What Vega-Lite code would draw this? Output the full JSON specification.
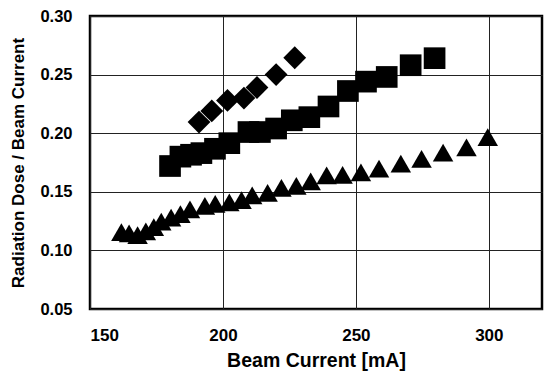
{
  "$schema": "https://vega.github.io/schema/vega-lite/v6.json",
  "width": 452,
  "height": 293,
  "autosize": {"type": "none"},
  "padding": {"left": 90, "top": 16, "right": 4, "bottom": 65},
  "background": "white",
  "config": {
    "view": {"stroke": "black", "strokeWidth": 2.5},
    "font": "Liberation Sans",
    "axis": {"labelFont": "Liberation Sans", "titleFont": "Liberation Sans", "labelFontWeight": "bold", "titleFontWeight": "bold", "labelColor": "black", "titleColor": "black", "gridColor": "#222", "gridWidth": 1, "gridOpacity": 1, "domain": false, "ticks": false}
  },
  "data": {"values": [
    {"series": "A", "current": 191, "ratio": 0.2095},
    {"series": "A", "current": 195.8, "ratio": 0.219},
    {"series": "A", "current": 201.7, "ratio": 0.228},
    {"series": "A", "current": 207.9, "ratio": 0.230},
    {"series": "A", "current": 212.8, "ratio": 0.239},
    {"series": "A", "current": 220, "ratio": 0.250},
    {"series": "A", "current": 227, "ratio": 0.2644},
    {"series": "B", "current": 180.1, "ratio": 0.172},
    {"series": "B", "current": 184, "ratio": 0.180},
    {"series": "B", "current": 188, "ratio": 0.1816},
    {"series": "B", "current": 191.9, "ratio": 0.183},
    {"series": "B", "current": 197, "ratio": 0.1867},
    {"series": "B", "current": 202.4, "ratio": 0.1915},
    {"series": "B", "current": 209.6, "ratio": 0.201},
    {"series": "B", "current": 213.9, "ratio": 0.201},
    {"series": "B", "current": 220, "ratio": 0.204},
    {"series": "B", "current": 225.9, "ratio": 0.211},
    {"series": "B", "current": 232.5, "ratio": 0.2137},
    {"series": "B", "current": 239.7, "ratio": 0.2228},
    {"series": "B", "current": 247, "ratio": 0.236},
    {"series": "B", "current": 253.8, "ratio": 0.244},
    {"series": "B", "current": 261.6, "ratio": 0.248},
    {"series": "B", "current": 270.6, "ratio": 0.258},
    {"series": "B", "current": 279.6, "ratio": 0.264},
    {"series": "C", "current": 161.8, "ratio": 0.1155},
    {"series": "C", "current": 164.7, "ratio": 0.1145},
    {"series": "C", "current": 167.9, "ratio": 0.113},
    {"series": "C", "current": 171, "ratio": 0.1163},
    {"series": "C", "current": 174, "ratio": 0.1198},
    {"series": "C", "current": 176.8, "ratio": 0.1246},
    {"series": "C", "current": 180.5, "ratio": 0.128},
    {"series": "C", "current": 184, "ratio": 0.131},
    {"series": "C", "current": 187.6, "ratio": 0.135},
    {"series": "C", "current": 193.2, "ratio": 0.138},
    {"series": "C", "current": 197.1, "ratio": 0.1397},
    {"series": "C", "current": 202.4, "ratio": 0.141},
    {"series": "C", "current": 207, "ratio": 0.143},
    {"series": "C", "current": 211, "ratio": 0.147},
    {"series": "C", "current": 216.8, "ratio": 0.149},
    {"series": "C", "current": 222, "ratio": 0.1534},
    {"series": "C", "current": 227.6, "ratio": 0.155},
    {"series": "C", "current": 233, "ratio": 0.159},
    {"series": "C", "current": 239, "ratio": 0.164},
    {"series": "C", "current": 245, "ratio": 0.1645},
    {"series": "C", "current": 251.9, "ratio": 0.1665},
    {"series": "C", "current": 258.7, "ratio": 0.1697},
    {"series": "C", "current": 266.9, "ratio": 0.174},
    {"series": "C", "current": 274.7, "ratio": 0.178},
    {"series": "C", "current": 282.8, "ratio": 0.1835},
    {"series": "C", "current": 291.6, "ratio": 0.188},
    {"series": "C", "current": 299.6, "ratio": 0.1966}
  ]},
  "mark": {"type": "point", "filled": true, "opacity": 1, "color": "black", "strokeWidth": 0},
  "encoding": {
    "x": {
      "field": "current", "type": "quantitative",
      "scale": {"domain": [150, 320], "nice": false, "zero": false},
      "axis": {"values": [150, 200, 250, 300], "title": "Beam Current [mA]", "labelFontSize": 17, "titleFontSize": 19.5, "labelPadding": 18, "titlePadding": 8, "grid": true}
    },
    "y": {
      "field": "ratio", "type": "quantitative",
      "scale": {"domain": [0.05, 0.30], "nice": false, "zero": false},
      "axis": {"values": [0.05, 0.10, 0.15, 0.20, 0.25, 0.30], "format": ".2f", "title": "Radiation Dose / Beam Current", "labelFontSize": 16.5, "titleFontSize": 17, "labelPadding": 18, "titlePadding": 12, "grid": true}
    },
    "shape": {
      "field": "series", "type": "nominal",
      "scale": {"domain": ["A", "B", "C"], "range": ["diamond", "square", "triangle-up"]},
      "legend": null
    },
    "size": {
      "field": "series", "type": "nominal",
      "scale": {"domain": ["A", "B", "C"], "range": [520, 420, 680]},
      "legend": null
    }
  }
}
